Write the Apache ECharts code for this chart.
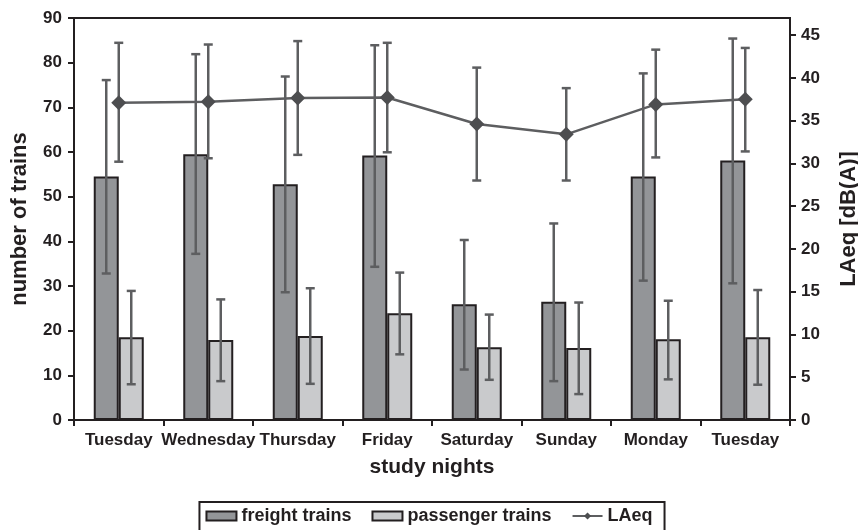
<!DOCTYPE html>
<html>
<head>
<meta charset="utf-8">
<script src="https://cdn.jsdelivr.net/npm/echarts@6/dist/echarts.min.js"></script>
<style>
  html, body { margin: 0; padding: 0; background: #ffffff; }
  #chart { width: 858px; height: 530px; }
</style>
</head>
<body>
<div id="chart"></div>
<script>
// Study nights on the category axis
const nights = ['Tuesday', 'Wednesday', 'Thursday', 'Friday', 'Saturday', 'Sunday', 'Monday', 'Tuesday'];

// Freight trains per night: mean with lower / upper error limits
const freight     = [54.5, 59.5, 52.8, 59.2, 25.9, 26.5, 54.5, 58.1];
const freightLow  = [32.8, 37.2, 28.6, 34.3, 11.3,  8.7, 31.2, 30.6];
const freightHigh = [76.1, 81.9, 76.9, 83.9, 40.3, 44.0, 77.6, 85.4];

// Passenger trains per night
const passenger     = [18.5, 17.9, 18.8, 23.9, 16.3, 16.1, 18.1, 18.5];
const passengerLow  = [ 8.0,  8.7,  8.1, 14.7,  9.0,  5.8,  9.1,  7.9];
const passengerHigh = [28.9, 27.0, 29.5, 33.0, 23.6, 26.3, 26.7, 29.1];

// Equivalent sound level LAeq in dB(A)
const laeq     = [37.1, 37.2, 37.65, 37.7, 34.6, 33.4, 36.9, 37.5];
const laeqLow  = [30.2, 30.6, 31.0, 31.3, 28.0, 28.0, 30.7, 31.4];
const laeqHigh = [44.1, 43.9, 44.3, 44.1, 41.2, 38.8, 43.3, 43.5];

// Axis tick values
const trainTicks = [0, 10, 20, 30, 40, 50, 60, 70, 80, 90];
const levelTicks = [0, 5, 10, 15, 20, 25, 30, 35, 40, 45];

const INK = '#231f20';
const WHISKER = '#5d5e60';
const FONT = '"Liberation Sans", Arial, Helvetica, sans-serif';
const BAR_W = 25;

const chart = echarts.init(document.getElementById('chart'), null, { renderer: 'canvas' });

// Vertical whisker with caps, shifted sideways so it sits on its bar
function errorBars(name, low, high, yAxisIndex, offset) {
  return {
    type: 'custom',
    name: name,
    yAxisIndex: yAxisIndex,
    z: 5,
    silent: true,
    data: low.map((l, i) => [i, l, high[i]]),
    encode: { x: 0, y: [1, 2] },
    renderItem: function (params, api) {
      const lo = api.coord([api.value(0), api.value(1)]);
      const hi = api.coord([api.value(0), api.value(2)]);
      const x = lo[0] + offset;
      const cap = 4.5;
      const style = { stroke: WHISKER, lineWidth: 2.5 };
      return {
        type: 'group',
        children: [
          { type: 'line', shape: { x1: x, y1: lo[1], x2: x, y2: hi[1] }, style: style },
          { type: 'line', shape: { x1: x - cap, y1: lo[1], x2: x + cap, y2: lo[1] }, style: style },
          { type: 'line', shape: { x1: x - cap, y1: hi[1], x2: x + cap, y2: hi[1] }, style: style }
        ]
      };
    }
  };
}

const axisText = { color: INK, fontFamily: FONT, fontWeight: 'bold' };

chart.setOption({
  animation: false,
  backgroundColor: '#ffffff',
  grid: {
    left: 74, right: 68, top: 18, bottom: 110,
    outerBoundsMode: 'none',
    containLabel: false,
    show: true, borderColor: INK, borderWidth: 2, backgroundColor: 'transparent'
  },
  legend: {
    data: [
      { name: 'freight trains', icon: 'rect' },
      { name: 'passenger trains', icon: 'rect' },
      { name: 'LAeq' }
    ],
    left: 'center',
    top: 502,
    itemWidth: 30,
    itemHeight: 9,
    itemGap: 20,
    padding: [5, 12, 30, 6],
    borderColor: INK,
    borderWidth: 2,
    textStyle: { color: INK, fontFamily: FONT, fontWeight: 'bold', fontSize: 18 }
  },
  xAxis: {
    type: 'category',
    data: nights,
    boundaryGap: true,
    axisLine: { show: true, lineStyle: { color: INK, width: 2 } },
    axisTick: { show: true, length: 6, lineStyle: { color: INK, width: 2 } },
    axisLabel: Object.assign({ fontSize: 17, margin: 12, interval: 0 }, axisText),
    splitLine: { show: false },
    name: 'study nights',
    nameLocation: 'middle',
    nameGap: 37,
    nameTextStyle: Object.assign({ fontSize: 21 }, axisText)
  },
  yAxis: [
    {
      type: 'value',
      min: 0, max: 90, interval: 10,
      position: 'left',
      axisLine: { show: true, lineStyle: { color: INK, width: 2 } },
      axisTick: { show: true, length: 6, lineStyle: { color: INK, width: 2 }, customValues: trainTicks },
      axisLabel: Object.assign({ fontSize: 17, margin: 12, customValues: trainTicks }, axisText),
      splitLine: { show: false },
      name: 'number of trains',
      nameLocation: 'middle',
      nameRotate: 90,
      nameGap: 43,
      nameTextStyle: Object.assign({ fontSize: 22 }, axisText)
    },
    {
      type: 'value',
      min: 0, max: 47, interval: 5,
      position: 'right',
      axisLine: { show: true, lineStyle: { color: INK, width: 2 } },
      axisTick: { show: true, length: 6, lineStyle: { color: INK, width: 2 }, customValues: levelTicks },
      axisLabel: Object.assign({ fontSize: 17, margin: 11, customValues: levelTicks }, axisText),
      splitLine: { show: false },
      name: 'LAeq [dB(A)]',
      nameLocation: 'middle',
      nameRotate: 90,
      nameGap: 48,
      nameTextStyle: Object.assign({ fontSize: 22 }, axisText)
    }
  ],
  series: [
    {
      name: 'freight trains',
      type: 'bar',
      data: freight,
      barWidth: BAR_W,
      barGap: '0%',
      z: 2,
      itemStyle: { color: '#939598', borderColor: INK, borderWidth: 2 }
    },
    {
      name: 'passenger trains',
      type: 'bar',
      data: passenger,
      barWidth: BAR_W,
      barGap: '0%',
      z: 2,
      itemStyle: { color: '#c9cacc', borderColor: INK, borderWidth: 2 }
    },
    errorBars('freight range', freightLow, freightHigh, 0, -BAR_W / 2),
    errorBars('passenger range', passengerLow, passengerHigh, 0, BAR_W / 2),
    errorBars('LAeq range', laeqLow, laeqHigh, 1, 0),
    {
      name: 'LAeq',
      type: 'line',
      yAxisIndex: 1,
      data: laeq,
      z: 6,
      symbol: 'diamond',
      symbolSize: 15,
      lineStyle: { color: WHISKER, width: 2.5 },
      itemStyle: { color: '#4d4e50' }
    }
  ]
});
</script>
</body>
</html>
